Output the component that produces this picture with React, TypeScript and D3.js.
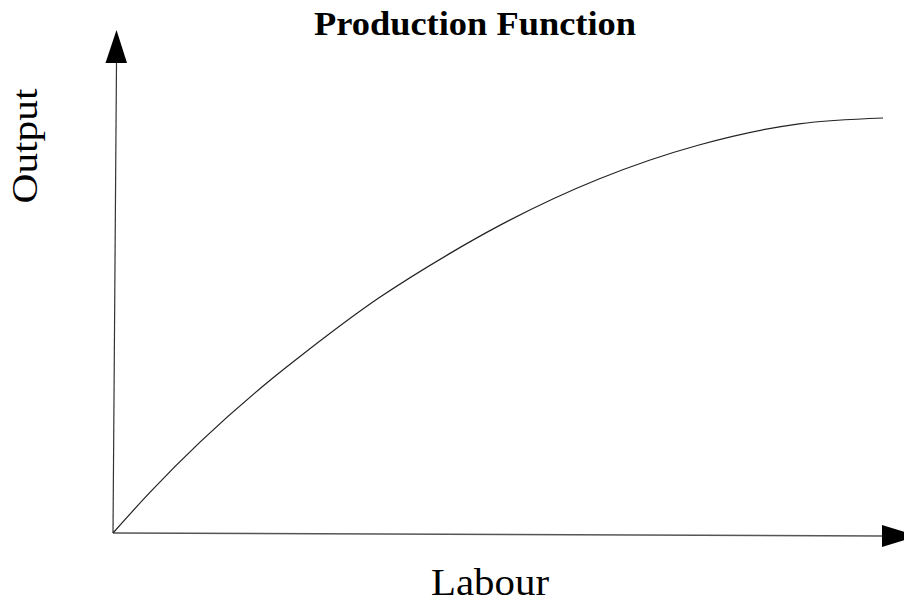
import React from "react";
import * as d3 from "d3";

// Readings of the curve (labour vs output, both 0..100)
const labour = [0, 4.7, 20.6, 24.2, 34.5, 43.6, 50.1, 63.1, 76.1, 89.1, 100];
const output = [0, 9.6, 37.1, 42.4, 56.6, 67.2, 74.0, 85.3, 93.5, 98.6, 100];

const title = "Production Function";
const xLabel = "Labour";
const yLabel = "Output";

const width = 904;
const height = 602;

const App: React.FC = () => {
  const xScale = d3.scaleLinear().domain([0, 100]).range([113, 883]);
  const yScale = d3.scaleLinear().domain([0, 100]).range([533, 118]);

  const line = d3
    .line<number>()
    .x((_, i) => xScale(labour[i]))
    .y((d) => yScale(d))
    .curve(d3.curveMonotoneX);

  const ox = xScale(0);
  const oy = yScale(0);
  const serif = "'Liberation Serif', 'Times New Roman', serif";

  return (
    <svg
      width={width}
      height={height}
      style={{ position: "absolute", left: 0, top: 0, background: "#fff" }}
    >
      {/* y axis */}
      <line x1={ox} y1={oy} x2={ox + 3.5} y2={62} stroke="#333" strokeWidth={1.2} />
      <polygon points={`${ox + 3.5},30 ${ox - 7.5},63 ${ox + 14},63`} fill="#000" />

      {/* x axis */}
      <line x1={ox} y1={oy} x2={882} y2={536} stroke="#555" strokeWidth={1.6} />
      <polygon points={`882,525 882,547 918,536`} fill="#000" />

      <path d={line(output) ?? ""} fill="none" stroke="#222" strokeWidth={1.2} />

      <text
        x={475}
        y={35}
        textAnchor="middle"
        fontFamily={serif}
        fontWeight="bold"
        fontSize={33}
        textLength={322}
        lengthAdjust="spacingAndGlyphs"
      >
        {title}
      </text>
      <text
        x={490}
        y={595}
        textAnchor="middle"
        fontFamily={serif}
        fontSize={37}
        textLength={118}
        lengthAdjust="spacingAndGlyphs"
      >
        {xLabel}
      </text>
      <text
        transform="translate(37,146) rotate(-90)"
        textAnchor="middle"
        fontFamily={serif}
        fontSize={35}
        textLength={115}
        lengthAdjust="spacingAndGlyphs"
      >
        {yLabel}
      </text>
    </svg>
  );
};

export default App;
